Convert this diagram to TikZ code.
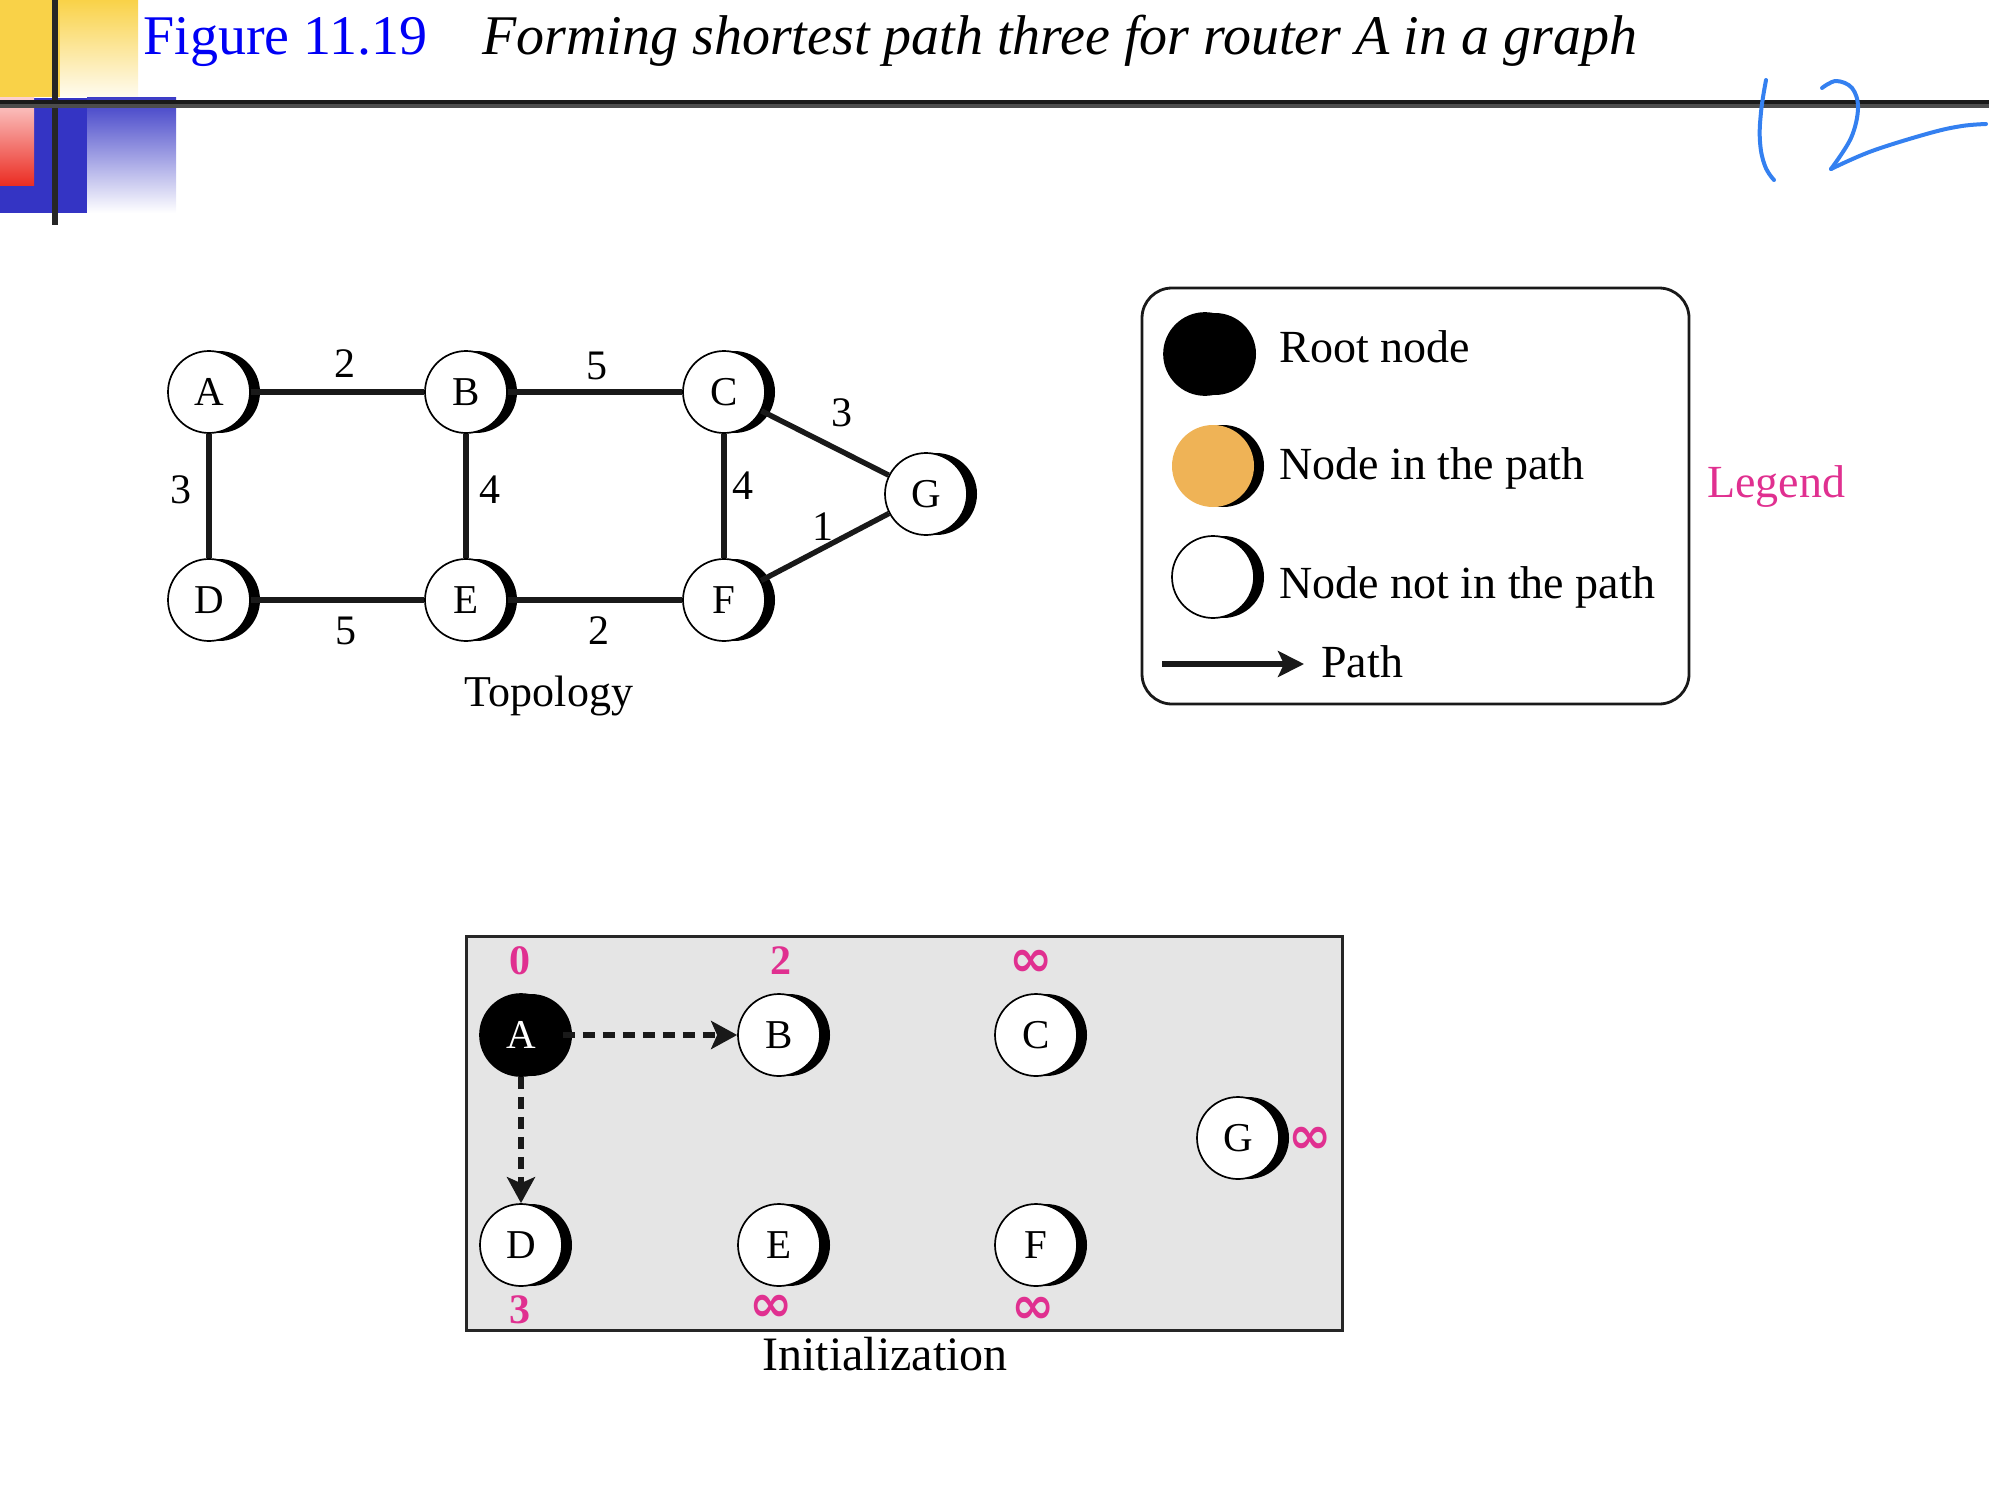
\documentclass[tikz,border=0pt]{standalone}
\usepackage{fontspec}
\setmainfont{Liberation Serif}
\newfontfamily\inffont{DejaVu Sans}
\usetikzlibrary{arrows.meta}
\definecolor{mag}{RGB}{224,48,144}
\definecolor{figblue}{RGB}{0,0,245}
\definecolor{orangefill}{RGB}{239,179,86}
\definecolor{initgray}{RGB}{229,229,229}
\definecolor{hand}{RGB}{52,128,240}
\definecolor{decoyellow}{RGB}{249,210,72}
\definecolor{decoblue}{RGB}{52,52,196}
\definecolor{decored}{RGB}{235,45,35}
\begin{document}
\begin{tikzpicture}[x=0.5pt,y=-0.5pt,
  nd/.style={circle, draw=black, line width=0.85pt, fill=white, minimum size=41pt, inner sep=0pt,
    font=\fontsize{20.5}{24}\selectfont,
    preaction={draw=none, fill=black, transform canvas={xshift=5pt}}},
  rootnd/.style={nd, fill=black, text=white},
  pathnd/.style={nd, draw=none, fill=orangefill},
  link/.style={line width=2.7pt, black!90},
  wlabel/.style={inner sep=0pt, font=\fontsize{21}{24}\selectfont},
  dist/.style={inner sep=0pt, text=mag, font=\fontsize{21}{24}\selectfont\bfseries},
  infty/.style={inner sep=0pt, text=mag, font=\fontsize{26}{28}\selectfont\inffont\bfseries},
  txt/.style={inner sep=0pt, anchor=base west, font=\fontsize{23}{28}\selectfont},
  patharrow/.style={line width=3.2pt, black!90, dash pattern=on 6pt off 4pt,
    -{Stealth[length=13pt, width=14pt, inset=3pt]}},
  hw/.style={line width=2pt, hand, line cap=round, line join=round}]
\useasboundingbox (0,0) rectangle (2016,1504);

% ---------- header decoration ----------
\fill[decoblue] (0,98) rectangle (87,213);
\shade[top color=decoblue!95, bottom color=white] (87,98) rectangle (176,213);
\shade[top color=red!8, bottom color=decored] (0,83) rectangle (34,185);
\fill[decoyellow] (0,0) rectangle (60,97);
\shade[top color=decoyellow, bottom color=decoyellow!8] (60,0) rectangle (138,97);
\draw[line width=3pt, black!85] (55,0) -- (55,225);
\draw[line width=1.6pt, black!70] (0,106) -- (1989,106);
\draw[line width=1.6pt, black!90] (0,102) -- (1989,102);

\node[anchor=base west, inner sep=0pt, text=figblue, font=\fontsize{28}{34}\selectfont] (fig) at (143,55) {Figure 11.19};
\node[anchor=base west, inner sep=0pt, font=\fontsize{28}{34}\selectfont\itshape] (cap) at (482,55) {Forming shortest path three for router A in a graph};

% handwritten mark
\draw[hw] plot[smooth, tension=0.7] coordinates {(1766,80) (1761,112) (1760,142) (1765,166) (1774,180)};
\draw[hw] plot[smooth, tension=0.6] coordinates {(1822,88) (1836,81) (1852,88) (1858,108) (1851,138) (1831,169)};
\draw[hw] plot[smooth, tension=0.6] coordinates {(1831,169) (1872,151) (1930,133) (1962,126) (1986,124)};

% ---------- topology ----------
\node[nd] (A) at (209,392) {A};
\node[nd] (B) at (466,392) {B};
\node[nd] (C) at (724,392) {C};
\node[nd] (G) at (926,494) {G};
\node[nd] (D) at (209,600) {D};
\node[nd] (E) at (466,600) {E};
\node[nd] (F) at (724,600) {F};

\draw[link] (A) -- (B);
\draw[link] (B) -- (C);
\draw[link] (C) -- (G);
\draw[link] (A) -- (D);
\draw[link] (B) -- (E);
\draw[link] (C) -- (F);
\draw[link] (F) -- (G);
\draw[link] (D) -- (E);
\draw[link] (E) -- (F);

\node[wlabel] (lAB) at (345,364) {2};
\node[wlabel] (lBC) at (597,366) {5};
\node[wlabel] (lCG) at (842,413) {3};
\node[wlabel] (lAD) at (181,490) {3};
\node[wlabel] (lBE) at (490,490) {4};
\node[wlabel] (lCF) at (743,486) {4};
\node[wlabel] (lFG) at (823,527) {1};
\node[wlabel] (lDE) at (346,631) {5};
\node[wlabel] (lEF) at (599,631) {2};
\node[inner sep=0pt, font=\fontsize{22}{26}\selectfont] (topo) at (549,696) {Topology};

% ---------- legend ----------
\draw[line width=1.4pt, black!90, rounded corners=15pt] (1142,288) rectangle (1689,704);
\node[rootnd] (lgroot) at (1205,354) {};
\node[pathnd] (lgpath) at (1213,466) {};
\node[nd] (lgnot) at (1213,577) {};
\node[txt] (troot) at (1279,362) {Root node};
\node[txt] (tpath) at (1279,479) {Node in the path};
\node[txt] (tnot) at (1279,598) {Node not in the path};
\coordinate (arS) at (1162,664);
\coordinate (arE) at (1304,664);
\draw[line width=3pt, black!90, -{Stealth[length=13pt, width=13pt, inset=3pt]}] (arS) -- (arE);
\node[txt] (tarrow) at (1321,677) {Path};
\node[anchor=base west, inner sep=0pt, text=mag, font=\fontsize{23}{28}\selectfont] (legend) at (1707,497) {Legend};

% ---------- initialization ----------
\draw[line width=1.5pt, black!85, fill=initgray] (466,936) rectangle (1342,1330);
\node[rootnd] (IA) at (521,1035) {A};
\node[nd] (IB) at (779,1035) {B};
\node[nd] (IC) at (1036,1035) {C};
\node[nd] (IG) at (1238,1138) {G};
\node[nd] (ID) at (521,1245) {D};
\node[nd] (IE) at (779,1245) {E};
\node[nd] (IF) at (1036,1245) {F};

\draw[patharrow] (IA) -- (IB);
\draw[patharrow] (IA) -- (ID);

\node[dist] (dA) at (520,961) {0};
\node[dist] (dB) at (781,961) {2};
\node[infty] (dC) at (1031,963) {∞};
\node[infty] (dG) at (1310,1140) {∞};
\node[dist] (dD) at (520,1310) {3};
\node[infty] (dE) at (771,1308) {∞};
\node[infty] (dF) at (1033,1310) {∞};
\node[inner sep=0pt, font=\fontsize{24}{28}\selectfont] (init) at (885,1354) {Initialization};
\end{tikzpicture}
\end{document}
